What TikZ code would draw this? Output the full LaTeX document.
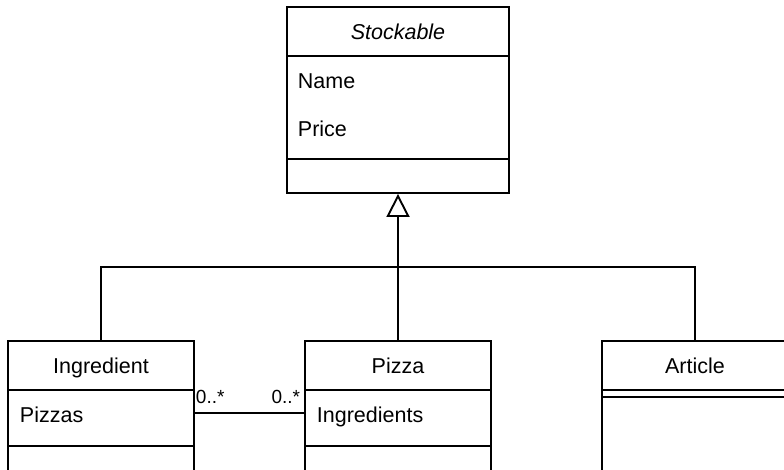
\documentclass[tikz,border=0pt]{standalone}
\usepackage{fontspec}
\setmainfont{Liberation Sans}
\usetikzlibrary{arrows.meta}

\begin{document}
\begin{tikzpicture}[x=1pt, y=-1pt, line width=1.9pt,
    classbox/.style={draw, inner sep=0pt, minimum width=#1},
    classhead/.style={classbox=#1, minimum height=49pt, font=\fontsize{21.5}{25}\selectfont,
        text height=15.4pt, text depth=0pt},
    attr/.style={inner sep=0pt, anchor=base west, font=\fontsize{21.5}{25}\selectfont},
    mult/.style={inner sep=0pt, font=\fontsize{19}{22}\selectfont},
    inherit/.style={-{Triangle[open, length=23pt, width=23pt]}}]

    \useasboundingbox (0,0) rectangle (784,469);
    \clip (0,0) rectangle (784,469);

    % abstract superclass
    \node [classhead=222] (stkhead) at (398,31.5) {\itshape Stockable};
    \node [classbox=222, minimum height=103pt] (stkattr) at (398,107.5) {};
    \node [classbox=222, minimum height=34pt] (stkops) at (398,176) {};
    \node [attr] (stkname) at (297,88) {Name};
    \node [attr] (stkprice) at (297,136.5) {Price};

    % subclasses
    \node [classhead=186] (inghead) at (101,365.5) {Ingredient};
    \node [classbox=186, minimum height=56pt] (ingattr) at (101,418) {};
    \node [classbox=186, minimum height=54pt] (ingops) at (101,473) {};
    \node [attr] (ingpizzas) at (19,422) {Pizzas};

    \node [classhead=186] (pizhead) at (398,365.5) {Pizza};
    \node [classbox=186, minimum height=56pt] (pizattr) at (398,418) {};
    \node [classbox=186, minimum height=54pt] (pizops) at (398,473) {};
    \node [attr] (pizingr) at (316,422) {Ingredients};

    \node [classhead=186] (arthead) at (695,365.5) {Article};
    \node [classbox=186, minimum height=7pt] (artattr) at (695,393.5) {};
    \node [classbox=186, minimum height=103pt] (artops) at (695,448.5) {};

    % generalization
    \coordinate (bus) at (398,267);
    \draw (inghead.north) |- (bus) -| (arthead.north);
    \draw (pizhead.north) -- (bus);
    \draw [inherit] (bus) -- (stkops.south);

    % association
    \draw ([yshift=5pt]ingattr.east) -- ([yshift=5pt]pizattr.west);
    \node [mult, anchor=base west] (ingmult) at (195,403.5) {0..*};
    \node [mult, anchor=base east] (pizmult) at (301,403.5) {0..*};
\end{tikzpicture}
\end{document}
